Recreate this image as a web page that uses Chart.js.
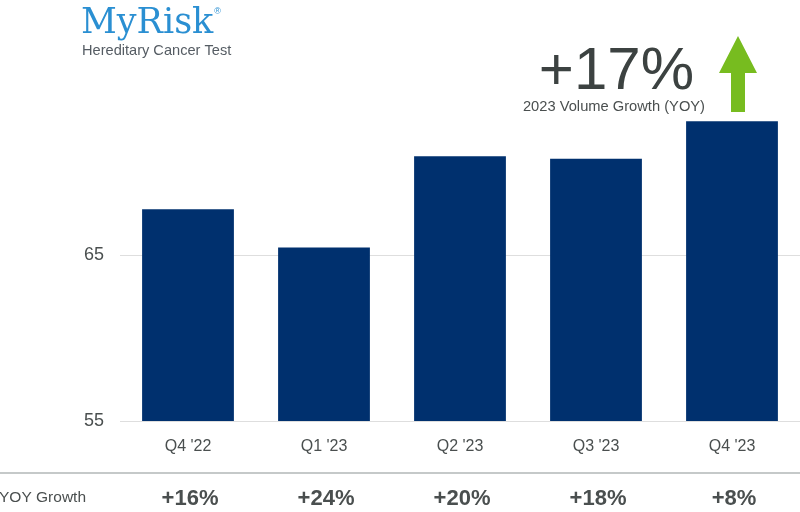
<!DOCTYPE html>
<html>
<head>
<meta charset="utf-8">
<title>MyRisk volume</title>
<script src="https://cdn.jsdelivr.net/npm/chart.js@4/dist/chart.umd.min.js"></script>
<style>
  html, body { margin: 0; padding: 0; background: #fff; }
  #wrap { width: 800px; height: 512px; position: relative; }
</style>
</head>
<body>
<div id="wrap"><canvas id="chart" width="800" height="512"></canvas></div>
<script>
// quarterly test volume
var quarters = ["Q4 '22", "Q1 '23", "Q2 '23", "Q3 '23", "Q4 '23"];
var volume = [67.75, 65.45, 70.95, 70.8, 73.05];
var yoyGrowth = ["+16%", "+24%", "+20%", "+18%", "+8%"];
var yTicks = [55, 65];

var navy = '#00306e';
var textGrey = '#4a4f4f';
var font = '"Liberation Sans", Arial, sans-serif';

var overlay = {
  id: 'overlay',
  afterDraw: function (chart) {
    var c = chart.ctx;
    var x = chart.scales.x;
    c.save();

    // logo
    c.fillStyle = '#2a8fd2';
    c.font = '35px "DejaVu Serif", serif';
    c.textBaseline = 'alphabetic';
    c.textAlign = 'left';
    c.fillText('MyRisk', 81, 33);
    var w = c.measureText('MyRisk').width;
    c.font = '9px ' + font;
    c.fillText('®', 81 + w + 1, 14);
    c.fillStyle = '#555c63';
    c.font = '14.6px ' + font;
    c.fillText('Hereditary Cancer Test', 82, 55);

    // headline
    c.fillStyle = '#3c4241';
    c.font = '300 60px ' + font;
    c.textAlign = 'right';
    c.fillText('+17%', 694, 89);
    c.font = '14.7px ' + font;
    c.fillStyle = textGrey;
    c.fillText('2023 Volume Growth (YOY)', 705, 111);

    // arrow
    c.fillStyle = '#77bc1f';
    c.beginPath();
    c.moveTo(738, 36);
    c.lineTo(757, 73);
    c.lineTo(745, 73);
    c.lineTo(745, 112);
    c.lineTo(731, 112);
    c.lineTo(731, 73);
    c.lineTo(719, 73);
    c.closePath();
    c.fill();

    // separator
    c.strokeStyle = '#c5c9c9';
    c.lineWidth = 2;
    c.beginPath();
    c.moveTo(0, 473);
    c.lineTo(800, 473);
    c.stroke();

    // yoy row
    c.fillStyle = textGrey;
    c.textBaseline = 'middle';
    c.textAlign = 'left';
    c.font = '15.5px ' + font;
    c.fillText('YOY Growth', -1, 498);
    c.textAlign = 'center';
    c.font = 'bold 22px ' + font;
    for (var i = 0; i < yoyGrowth.length; i++) {
      c.fillText(yoyGrowth[i], x.getPixelForValue(i) + 2, 499);
    }
    c.restore();
  }
};

new Chart(document.getElementById('chart'), {
  type: 'bar',
  data: {
    labels: quarters,
    datasets: [{
      data: volume,
      backgroundColor: navy,
      barPercentage: 0.675,
      categoryPercentage: 1
    }]
  },
  options: {
    responsive: false,
    animation: false,
    layout: { padding: { top: 89, left: 0, right: 0, bottom: 0 } },
    plugins: { legend: { display: false }, tooltip: { enabled: false } },
    scales: {
      x: {
        grid: { display: false },
        border: { display: false },
        ticks: { color: textGrey, font: { family: font, size: 16 }, padding: 8 },
        afterFit: function (a) { a.height = 91; }
      },
      y: {
        min: 55,
        max: 75,
        afterBuildTicks: function (a) { a.ticks = yTicks.map(function (v) { return { value: v }; }); },
        grid: { color: '#dedede', drawTicks: false },
        border: { display: false },
        ticks: { color: textGrey, font: { family: font, size: 18 }, padding: 16 },
        afterFit: function (a) { a.width = 120; }
      }
    }
  },
  plugins: [overlay]
});
</script>
</body>
</html>
